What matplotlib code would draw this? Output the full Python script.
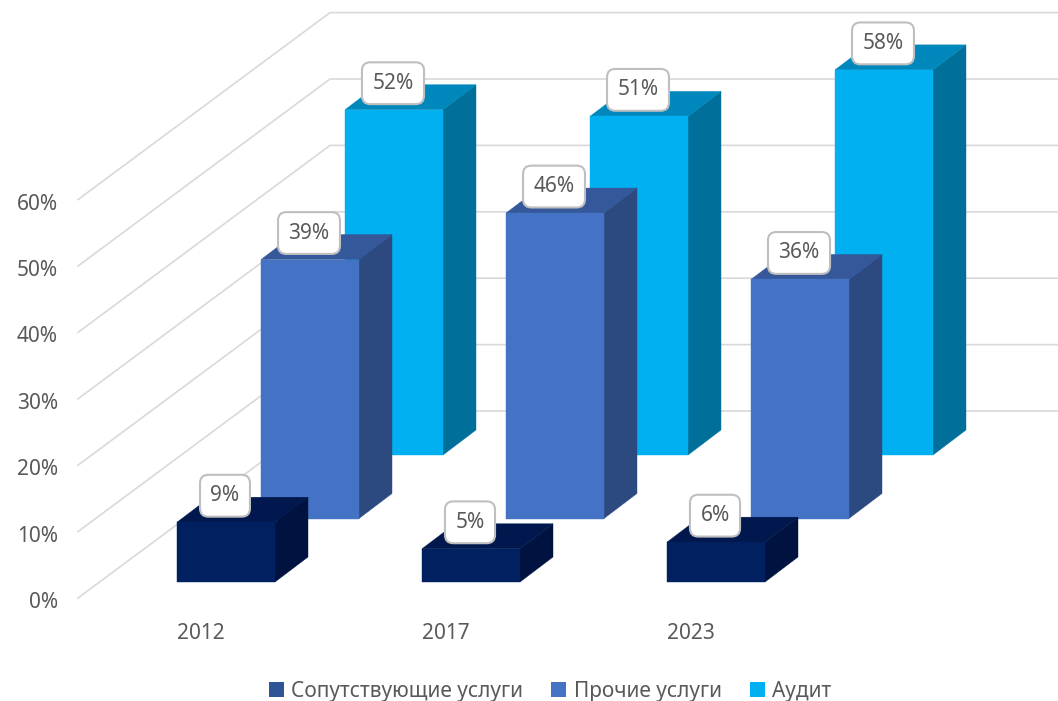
import matplotlib
matplotlib.use("Agg")
import matplotlib.pyplot as plt
from matplotlib.patches import Patch, Polygon
from matplotlib.transforms import ScaledTranslation

plt.rcParams['font.family'] = ['Noto Sans', 'DejaVu Sans']

W, H = 1058, 701
categories = ['2012', '2017', '2023']
series_names = ['Сопутствующие услуги', 'Прочие услуги', 'Аудит']
support = [9, 5, 6]
other = [39, 46, 36]
audit = [52, 51, 58]
y_ticks = [0, 10, 20, 30, 40, 50, 60]

series = [support, other, audit]
front_colors = ['#002060', '#4472C4', '#00B0F0']
side_colors = ['#001340', '#2D4A80', '#00709B']
top_colors = ['#00184D', '#35589B', '#0088BC']
legend_colors = ['#2F5597', '#4472C4', '#00B0F0']
text_color = '#595959'

# scale of the drawing, in pixels
PX_PER_PCT = 6.64
PX_PER_CAT = 245.0
BASE_X = 80
BASE_Y = 598
ZERO_X = 226            # centre of the first category in the front row
BAR_W = 98 / PX_PER_CAT
# oblique depth directions, in pixels
WALL_D = (250, 187)
ROW_OFFS = [(0, 16), (84, 79.5), (168, 143)]
BAR_D = (33, 25)

fig = plt.figure(figsize=(W / 100, H / 100), dpi=100, facecolor='white')
ax = fig.add_axes([BASE_X / W, 1 - BASE_Y / H, 1 - BASE_X / W, BASE_Y / H])
ax.set_xlim((BASE_X - ZERO_X) / PX_PER_CAT, (W - ZERO_X) / PX_PER_CAT)
ax.set_ylim(0, BASE_Y / PX_PER_PCT)
ax.set_facecolor('none')
for s in ax.spines.values():
    s.set_visible(False)


def dx(px):
    return px / PX_PER_CAT


def dy(px):
    return px / PX_PER_PCT


# gridlines: floor/side-wall diagonal, then along the back wall
xmin, xmax = ax.get_xlim()
for t in y_ticks:
    ax.plot([xmin - dx(2), xmin + dx(WALL_D[0]), xmax],
            [t, t + dy(WALL_D[1]), t + dy(WALL_D[1])],
            color='#D9D9D9', lw=1.2, clip_on=False, zorder=1, solid_joinstyle='round')

# bars: back row first, so the front rows overlap it
z = 2
for r in (2, 1, 0):
    ox, oy = ROW_OFFS[r]
    for i, v in enumerate(series[r]):
        x0 = i - BAR_W / 2 + dx(ox)
        x1 = i + BAR_W / 2 + dx(ox)
        y0 = dy(oy)
        y1 = y0 + v
        ddx, ddy = dx(BAR_D[0]), dy(BAR_D[1])
        ax.add_patch(Polygon([(x1, y0), (x1 + ddx, y0 + ddy), (x1 + ddx, y1 + ddy), (x1, y1)],
                             fc=side_colors[r], ec=side_colors[r], lw=0.3, zorder=z))
        ax.add_patch(Polygon([(x0, y1), (x1, y1), (x1 + ddx, y1 + ddy), (x0 + ddx, y1 + ddy)],
                             fc=top_colors[r], ec=top_colors[r], lw=0.3, zorder=z))
        ax.add_patch(Polygon([(x0, y0), (x1, y0), (x1, y1), (x0, y1)],
                             fc=front_colors[r], ec=front_colors[r], lw=0.3, zorder=z + 0.1))
        z += 1

# value labels sit above the front edge of each bar
for r in (2, 1, 0):
    ox, oy = ROW_OFFS[r]
    for i, v in enumerate(series[r]):
        ax.text(i + dx(ox) - dx(1), v + dy(oy) + dy(26.5), f'{v}%', ha='center', va='center',
                fontsize=15, color=text_color, zorder=50,
                bbox=dict(boxstyle='round,pad=0.5,rounding_size=0.4', fc='white',
                          ec='#BFBFBF', lw=1.5))

# axes ticks
ax.set_yticks(y_ticks)
ax.set_yticklabels([f'{t}%' for t in y_ticks], fontsize=15, color=text_color)
ax.set_xticks([i - dx(25) for i in range(len(categories))])
ax.set_xticklabels(categories, fontsize=15, color=text_color)
ax.tick_params(axis='both', length=0)
ax.tick_params(axis='y', pad=16)
ax.tick_params(axis='x', pad=18)
shift = ScaledTranslation(0, -2 / 100, fig.dpi_scale_trans)
for lab in ax.get_yticklabels():
    lab.set_transform(lab.get_transform() + shift)

handles = [Patch(fc=c, ec='none', label=n) for c, n in zip(legend_colors, series_names)]
fig.legend(handles=handles, loc='center', bbox_to_anchor=(550 / W, 1 - 691 / H), ncol=3,
           frameon=False, prop={'size': 15}, labelcolor=text_color, handlelength=0.72,
           handleheight=0.72, handletextpad=0.35, columnspacing=1.35)

fig.savefig('out.png', dpi=100, facecolor='white')
